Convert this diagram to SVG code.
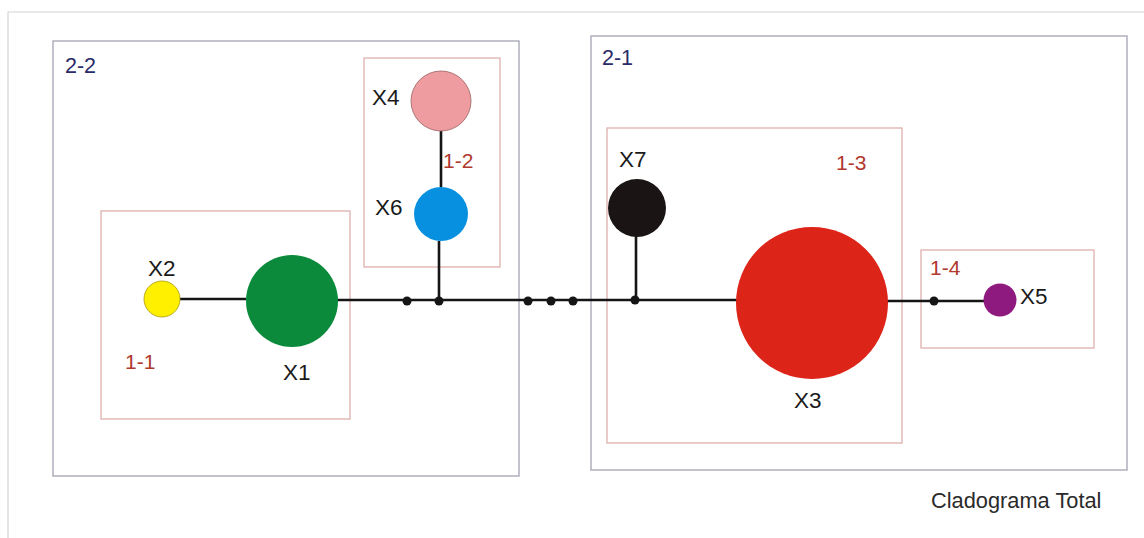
<svg xmlns="http://www.w3.org/2000/svg" width="1144" height="538" viewBox="0 0 1144 538">
<style>
.frame{fill:none;stroke:#d4d4d8;stroke-width:1.2}
.big{fill:none;stroke:#aaaab8;stroke-width:1.4}
.small{fill:none;stroke:#deb0ae;stroke-width:1.3}
.edge{fill:none;stroke:#151515;stroke-width:2.6}
.dot{fill:#151515}
.lx{font-family:"Liberation Sans",Arial,sans-serif;font-size:22.5px;fill:#1a1a1a}
.l1{font-family:"Liberation Sans",Arial,sans-serif;font-size:21px;fill:#b0382c}
.l2{font-family:"Liberation Sans",Arial,sans-serif;font-size:21.5px;fill:#2a2a68}
.title{font-family:"Liberation Sans",Arial,sans-serif;font-size:21.8px;fill:#2a2a2a}
</style>
<rect width="1144" height="538" fill="#ffffff"/>
<path class="frame" d="M8,538 V12 H1144"/>
<g id="groups">
<g id="g2-2"><rect class="big" x="53" y="41" width="466" height="435"/><text class="l2" x="65" y="73">2-2</text></g>
<g id="g2-1"><rect class="big" x="591" y="36" width="536" height="434"/><text class="l2" x="602" y="65">2-1</text></g>
<g id="g1-1"><rect class="small" x="101" y="211" width="249" height="208"/><text class="l1" x="125" y="369">1-1</text></g>
<g id="g1-2"><rect class="small" x="364" y="58" width="136" height="209"/><text class="l1" x="443" y="168">1-2</text></g>
<g id="g1-3"><rect class="small" x="607" y="128" width="295" height="315"/><text class="l1" x="836" y="170">1-3</text></g>
<g id="g1-4"><rect class="small" x="921" y="250" width="173" height="98"/><text class="l1" x="930" y="275">1-4</text></g>
</g>
<g id="connectors">
<path class="edge" d="M180,299 H246"/>
<path class="edge" d="M337,300 H737"/>
<path class="edge" d="M441,130 V187"/>
<path class="edge" d="M439,241 V300"/>
<path class="edge" d="M636,236 V300"/>
<path class="edge" d="M885,301 H990"/>
<circle class="dot" cx="407" cy="301" r="4.5"/>
<circle class="dot" cx="439" cy="301" r="4.5"/>
<circle class="dot" cx="528" cy="301" r="4.5"/>
<circle class="dot" cx="551" cy="301" r="4.5"/>
<circle class="dot" cx="573" cy="301" r="4.5"/>
<circle class="dot" cx="635" cy="300" r="4.5"/>
<circle class="dot" cx="934" cy="301" r="4.5"/>
</g>
<g id="X2"><circle cx="162" cy="299" r="18" fill="#fff000" stroke="#a89a10" stroke-width="0.8"/><text class="lx" x="148" y="276">X2</text></g>
<g id="X1"><circle cx="292" cy="301" r="46" fill="#0b8a3c"/><text class="lx" x="283" y="380">X1</text></g>
<g id="X4"><circle cx="441" cy="101" r="30" fill="#ee9ca0" stroke="#9a6262" stroke-width="0.8"/><text class="lx" x="372" y="105">X4</text></g>
<g id="X6"><circle cx="441" cy="214" r="27" fill="#0890e0"/><text class="lx" x="375" y="215">X6</text></g>
<g id="X7"><circle cx="637" cy="208" r="29" fill="#1a1414"/><text class="lx" x="619" y="167">X7</text></g>
<g id="X3"><circle cx="812" cy="303" r="76" fill="#dc2418"/><text class="lx" x="794" y="408">X3</text></g>
<g id="X5"><circle cx="1000" cy="300" r="16.5" fill="#8e1a80"/><text class="lx" x="1020" y="304">X5</text></g>
<text class="title" x="931" y="508">Cladograma Total</text>
</svg>
